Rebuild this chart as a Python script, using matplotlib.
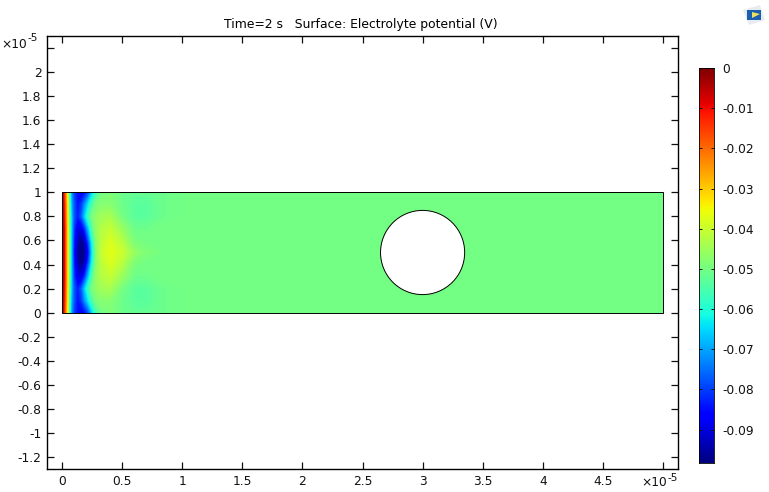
import numpy as np
import matplotlib
matplotlib.use('Agg')
import matplotlib.pyplot as plt
from matplotlib.patches import Circle, Rectangle, Polygon

W, H = 769, 492

# field, x and y in units of 1e-5 m
x_cols = [0, .015, .03, .045, .06, .08, .1, .13, .16, .19, .22, .25, .28, .32, .4, .5, .6, .7, .85, 1.1, 1.4, 5]
y_rows = [0, .1, .2, .3, .42, .5, .58, .7, .8, .9, 1]
row_00 = [-.002, -.012, -.024, -.037, -.056, -.072, -.080, -.085, -.087, -.085, -.078, -.066, -.057, -.051, -.049, -.051, -.052, -.052, -.051, -.050, -.050, -.050]
row_10 = [-.002, -.010, -.022, -.036, -.054, -.070, -.078, -.085, -.081, -.072, -.063, -.055, -.050, -.048, -.048, -.051, -.053, -.053, -.051, -.050, -.050, -.050]
row_20 = [-.002, -.009, -.021, -.035, -.052, -.068, -.078, -.084, -.078, -.066, -.056, -.050, -.047, -.045, -.044, -.050, -.053, -.053, -.051, -.050, -.050, -.050]
row_30 = [-.001, -.008, -.020, -.034, -.051, -.068, -.081, -.090, -.090, -.081, -.067, -.054, -.047, -.043, -.041, -.046, -.051, -.051, -.050, -.050, -.050, -.050]
row_42 = [-.001, -.008, -.020, -.034, -.050, -.069, -.083, -.095, -.098, -.094, -.080, -.062, -.049, -.042, -.038, -.042, -.049, -.050, -.050, -.050, -.050, -.050]
row_50 = [-.001, -.008, -.020, -.034, -.050, -.069, -.085, -.096, -.098, -.096, -.085, -.064, -.050, -.041, -.037, -.040, -.046, -.049, -.050, -.050, -.050, -.050]
field = [row_00, row_10, row_20, row_30, row_42, row_50, row_42, row_30, row_20, row_10, row_00]

hole_center = (3, 0.5)
hole_radius = 0.35
v_min, v_max = -0.0983, 0

x_ticks = [0, .5, 1, 1.5, 2, 2.5, 3, 3.5, 4, 4.5, 5]
x_labels = ['0', '0.5', '1', '1.5', '2', '2.5', '3', '3.5', '4', '4.5', '']
y_ticks = [-1.2, -1, -.8, -.6, -.4, -.2, 0, .2, .4, .6, .8, 1, 1.2, 1.4, 1.6, 1.8, 2, 2.2]
y_labels = ['-1.2', '-1', '-0.8', '-0.6', '-0.4', '-0.2', '0', '0.2', '0.4', '0.6', '0.8', '1', '1.2', '1.4', '1.6', '1.8', '2', '']
cbar_ticks = [0, -.01, -.02, -.03, -.04, -.05, -.06, -.07, -.08, -.09]
cbar_labels = ['0', '-0.01', '-0.02', '-0.03', '-0.04', '-0.05', '-0.06', '-0.07', '-0.08', '-0.09']

plt.rcParams['font.family'] = 'DejaVu Sans'
plt.rcParams['font.size'] = 9


def px_axes(fig, left, top, right, bottom):
    return fig.add_axes([left / W, 1 - bottom / H, (right - left) / W, (bottom - top) / H])


def px_text(fig, x, y, s, size):
    fig.text(x / W, 1 - y / H, s, fontsize=size, va='center', ha='left', color='#111111')


fig = plt.figure(figsize=(W / 100, H / 100), dpi=100)

ax = px_axes(fig, 47, 36, 678, 469)
ax.contourf(x_cols, y_rows, np.array(field), levels=np.linspace(v_min, v_max, 200), cmap='jet')
ax.add_patch(Rectangle((0, 0), 5, 1, fill=False, edgecolor='black', linewidth=0.7))
ax.add_patch(Circle(hole_center, hole_radius, facecolor='white', edgecolor='black', linewidth=0.7))
ax.set_xlim(-0.125, 5.125)
ax.set_ylim(-1.3, 2.3)
ax.set_xticks(x_ticks, x_labels)
ax.set_yticks(y_ticks, y_labels)
ax.tick_params(direction='in', length=5, width=0.9, top=True, right=True, pad=4, labelsize=8.8, colors='#111111')
for s in ax.spines.values():
    s.set_linewidth(1.0)
ax.set_title('Time=2 s   Surface: Electrolyte potential (V)', fontsize=8.9, pad=6, x=0.4968)

px_text(fig, 1, 44, '\u00d710', 8.8)
px_text(fig, 27, 38, '-5', 7.5)
px_text(fig, 641, 483, '\u00d710', 8.8)
px_text(fig, 667, 478, '-5', 7.5)

cax = px_axes(fig, 699, 68, 714, 463)
levels = np.linspace(v_min, v_max, 256)[:, None]
cax.imshow(levels, origin='lower', aspect='auto', cmap='jet', vmin=v_min, vmax=v_max, extent=[0, 1, v_min, v_max])
cax.set_xticks([])
cax.set_yticks(cbar_ticks, cbar_labels)
cax.yaxis.tick_right()
cax.tick_params(direction='in', length=2, width=0.7, left=True, right=True, pad=6, labelsize=8.8, colors='#111111')
for s in cax.spines.values():
    s.set_linewidth(0.6)

# small logo, top right
logo_bg = [(743, 10), (760, 5), (765, 20), (749, 25)]
fig.add_artist(Polygon([(x / W, 1 - y / H) for x, y in logo_bg], transform=fig.transFigure, facecolor='#e9ebf0', edgecolor='none'))
fig.add_artist(Rectangle((747 / W, 1 - 20 / H), 14 / W, 10 / H, transform=fig.transFigure, facecolor='#1c5fb0', edgecolor='none'))
logo_fg = [(752, 12), (760, 14), (752, 18)]
fig.add_artist(Polygon([(x / W, 1 - y / H) for x, y in logo_fg], transform=fig.transFigure, facecolor='#f0e060', edgecolor='none'))

fig.savefig('out.png', dpi=100)
